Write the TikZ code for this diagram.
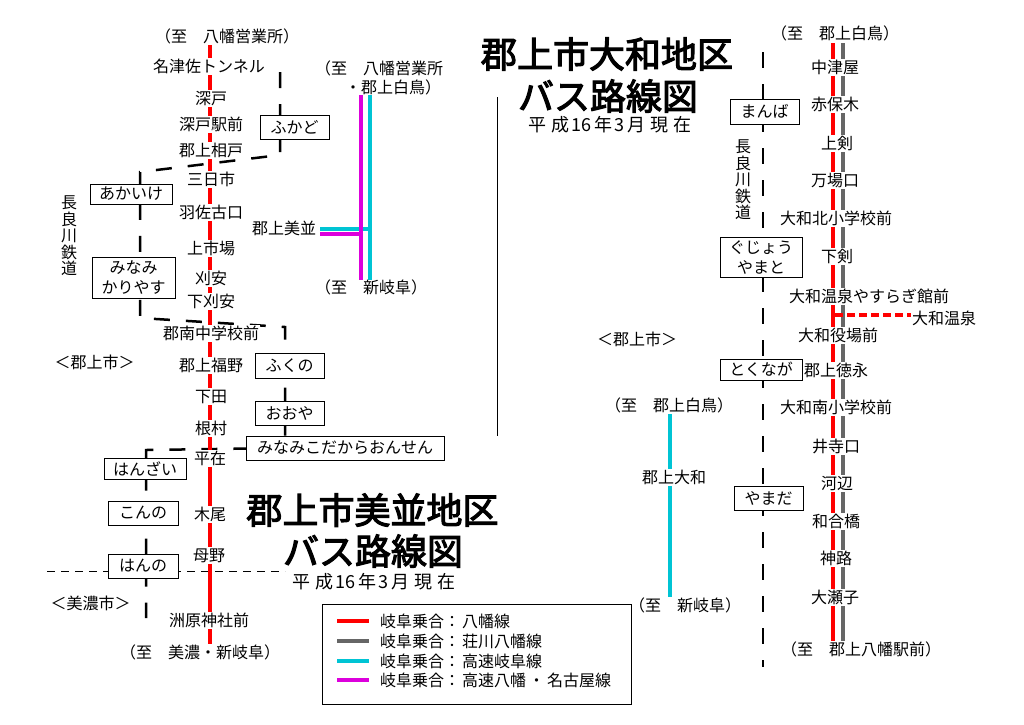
\documentclass[tikz,border=0pt]{standalone}
\usepackage{fontspec}
\setmainfont{Noto Sans CJK JP}
\newfontfamily\titlefont[FakeBold=3]{Noto Sans CJK JP}
\usetikzlibrary{calc}
\definecolor{railgray}{HTML}{666666}
\definecolor{railcyan}{HTML}{00C4D4}
\definecolor{railmagenta}{HTML}{DC00DC}
\newcommand{\heiseinow}{平\hspace{5pt}成\hspace{2pt}16\hspace{3pt}年\hspace{2pt}3\hspace{3pt}月\hspace{5pt}現\hspace{5pt}在}
\tikzset{
  stop/.style={fill=white,inner xsep=1pt,inner ysep=1pt,text height=14pt,text depth=1pt,
    font=\fontsize{16}{17}\selectfont},
  plain/.style={inner sep=0pt,font=\fontsize{16}{17}\selectfont},
  station/.style={draw,line width=1pt,fill=white,inner sep=0pt,align=center,
    font=\fontsize{16}{20}\selectfont},
  bigtitle/.style={inner sep=0pt,font=\titlefont\fontsize{36}{38}\selectfont},
  subtitle/.style={inner sep=0pt,font=\fontsize{18}{20}\selectfont},
  busline/.style={line width=4pt},
  railway/.style={line width=2.5pt,dash pattern=on 16pt off 16pt}
}
\begin{document}
\begin{tikzpicture}[x=1pt,y=-1pt]
\useasboundingbox (0,0) rectangle (1024,724);

% Ends of the lines
\coordinate (mitop) at (210,44);
\coordinate (mibot) at (210,646);
\coordinate (yaredtop) at (833,43);
\coordinate (yaredbot) at (833,641);
\coordinate (yagraytop) at (843,43);
\coordinate (yagraybot) at (843,641);
\coordinate (expmtop) at (361,95);
\coordinate (expmbot) at (361,280);
\coordinate (expctop) at (370,95);
\coordinate (expcbot) at (370,280);
\coordinate (expcside) at (320,229);
\coordinate (expcjoin) at (370,229);
\coordinate (expmside) at (320,234);
\coordinate (expmjoin) at (361,234);
\coordinate (yacyantop) at (670,414);
\coordinate (yacyanbot) at (670,597);
\coordinate (onsenjoin) at (835,315);
\coordinate (onsenend) at (912,315);
\coordinate (borderl) at (47,571);
\coordinate (borderr) at (285,571);
\coordinate (divtop) at (497,97);
\coordinate (divbot) at (497,436);

% The two railways
\draw[railway] (280,72) -- (280,155) -- (140,172) -- (140,318) -- (285,327)
  -- (285,448) -- (146,450) -- (146,618);
\draw[railway] (763,52) -- (763,667);

% City border and divider
\draw[line width=1pt,dash pattern=on 8pt off 6pt] (borderl) -- (borderr);
\draw[line width=1pt] (divtop) -- (divbot);

% Bus lines
\draw[busline,red] (mitop) -- (mibot);
\draw[busline,railgray] (yagraytop) -- (yagraybot);
\draw[busline,red] (yaredtop) -- (yaredbot);
\draw[busline,red,dash pattern=on 8pt off 4pt] (onsenjoin) -- (onsenend);
\draw[busline,railcyan] (yacyantop) -- (yacyanbot);
\draw[busline,railcyan] (expctop) -- (expcbot);
\draw[busline,railcyan] (expcside) -- (expcjoin);
\draw[busline,railmagenta] (expmtop) -- (expmbot);
\draw[busline,railmagenta] (expmside) -- (expmjoin);

% Stops of the Minami line
\node[stop] (totop) at (227,36) {（至　八幡営業所）};
\node[stop] (nazusa) at (209,66) {名津佐トンネル};
\node[stop] (fukado) at (211,98) {深戸};
\node[stop] (fukadoeki) at (211,124) {深戸駅前};
\node[stop] (aido) at (211,150) {郡上相戸};
\node[stop] (mikkaichi) at (211,179) {三日市};
\node[stop] (hasako) at (211,212) {羽佐古口};
\node[stop] (kamiichiba) at (211,248) {上市場};
\node[stop] (kariyasu) at (211,278) {刈安};
\node[stop] (shimokari) at (211,301) {下刈安};
\node[stop] (gunnan) at (211,333) {郡南中学校前};
\node[stop] (fukuno) at (211,365) {郡上福野};
\node[stop] (shimoda) at (211,396) {下田};
\node[stop] (nemura) at (211,428) {根村};
\node[stop] (hirazai) at (210,458) {平在};
\node[stop] (kio) at (210,514) {木尾};
\node[stop] (hahano) at (209,555) {母野};
\node[stop] (suhara) at (209,620) {洲原神社前};
\node[stop] (tomino) at (200,652) {（至　美濃・新岐阜）};

% Expressway stop
\node[plain] (toexpa) at (379,68) {（至　八幡営業所};
\node[plain] (toexpb) at (393,87) {・郡上白鳥）};
\node[plain] (minami) at (284,228) {郡上美並};
\node[plain] (toexpc) at (371,287) {（至　新岐阜）};
\node[stop] (toyacyan) at (669,405) {（至　郡上白鳥）};
\node[stop] (yamato) at (674,477) {郡上大和};
\node[stop] (toyacyanb) at (685,605) {（至　新岐阜）};

% Stops of the Yamato line
\node[stop] (toyatop) at (835,33) {（至　郡上白鳥）};
\node[stop] (nakatsuya) at (835,67) {中津屋};
\node[stop] (akaboki) at (835,104) {赤保木};
\node[stop] (kamitsurugi) at (837,143) {上剣};
\node[stop] (manba) at (835,180) {万場口};
\node[stop] (yamakita) at (836,218) {大和北小学校前};
\node[stop] (shimotsurugi) at (837,256) {下剣};
\node[stop] (yasuragi) at (869,296) {大和温泉やすらぎ館前};
\node[stop] (onsen) at (944,318) {大和温泉};
\node[stop] (yakuba) at (838,335) {大和役場前};
\node[stop] (tokunaga) at (836,370) {郡上徳永};
\node[stop] (yamaminami) at (836,407) {大和南小学校前};
\node[stop] (idera) at (836,446) {井寺口};
\node[stop] (kobe) at (837,483) {河辺};
\node[stop] (wagou) at (836,521) {和合橋};
\node[stop] (jinro) at (836,558) {神路};
\node[stop] (oose) at (835,597) {大瀬子};
\node[stop] (toyabot) at (861,649) {（至　郡上八幡駅前）};

% Railway stations
\node[station,minimum width=69pt,minimum height=24pt] (stfukado) at (294.5,127) {ふかど};
\node[station,minimum width=82pt,minimum height=20pt] (stakaike) at (131,194) {あかいけ};
\node[station,minimum width=83pt,minimum height=41pt] (stminami) at (133.5,277.5) {みなみ\\かりやす};
\node[station,minimum width=69pt,minimum height=25pt] (stfukuno) at (289.5,365.5) {ふくの};
\node[station,minimum width=69pt,minimum height=24pt] (stooya) at (289.5,413) {おおや};
\node[station,minimum width=198pt,minimum height=24pt] (stkodakara) at (345,448) {みなみこだからおんせん};
\node[station,minimum width=82pt,minimum height=21pt] (sthanzai) at (145,468.5) {はんざい};
\node[station,minimum width=70pt,minimum height=24pt] (stkonno) at (143,513) {こんの};
\node[station,minimum width=70pt,minimum height=24pt] (sthanno) at (143,566) {はんの};
\node[station,minimum width=69pt,minimum height=25pt] (stmanba) at (764.5,111.5) {まんば};
\node[station,minimum width=82pt,minimum height=40pt] (stgujo) at (761,257) {ぐじょう\\やまと};
\node[station,minimum width=82pt,minimum height=21pt] (sttokunaga) at (761,369.5) {とくなが};
\node[station,minimum width=69pt,minimum height=24pt] (styamada) at (768.5,498) {やまだ};

% Railway and city names
\node[plain,align=center,font=\fontsize{16}{16.5}\selectfont] (raila) at (69,236) {長\\良\\川\\鉄\\道};
\node[plain,align=center,font=\fontsize{16}{16.5}\selectfont] (railb) at (743,180) {長\\良\\川\\鉄\\道};
\node[plain] (citya) at (94.5,362) {＜郡上市＞};
\node[plain] (cityb) at (90.5,603) {＜美濃市＞};
\node[plain] (cityc) at (637,339) {＜郡上市＞};

% Titles
\node[bigtitle] (titlea) at (372.5,510) {郡上市美並地区};
\node[bigtitle] (titleb) at (373,551) {バス路線図};
\node[subtitle] (datea) at (374,582) {\heiseinow};
\node[bigtitle] (titlec) at (607,54) {郡上市大和地区};
\node[bigtitle] (titled) at (608,96) {バス路線図};
\node[subtitle] (dateb) at (610,125) {\heiseinow};

% Legend
\draw[line width=1pt] (322,604) rectangle (631,704);
\foreach \i/\ly/\col/\lname in {1/621/red/八幡線,2/641/railgray/荘川八幡線,3/661/railcyan/高速岐阜線,4/680/railmagenta/高速八幡\hspace{2.5pt}・\hspace{2.5pt}名古屋線}{
  \node[plain,anchor=west] (leg\i) at (380,\ly) {岐阜乗合：\hspace{2pt}\lname};
  \draw[busline,\col] ($(leg\i.west)+(-43,0)$) -- ($(leg\i.west)+(-11,0)$);
}
\end{tikzpicture}
\end{document}
